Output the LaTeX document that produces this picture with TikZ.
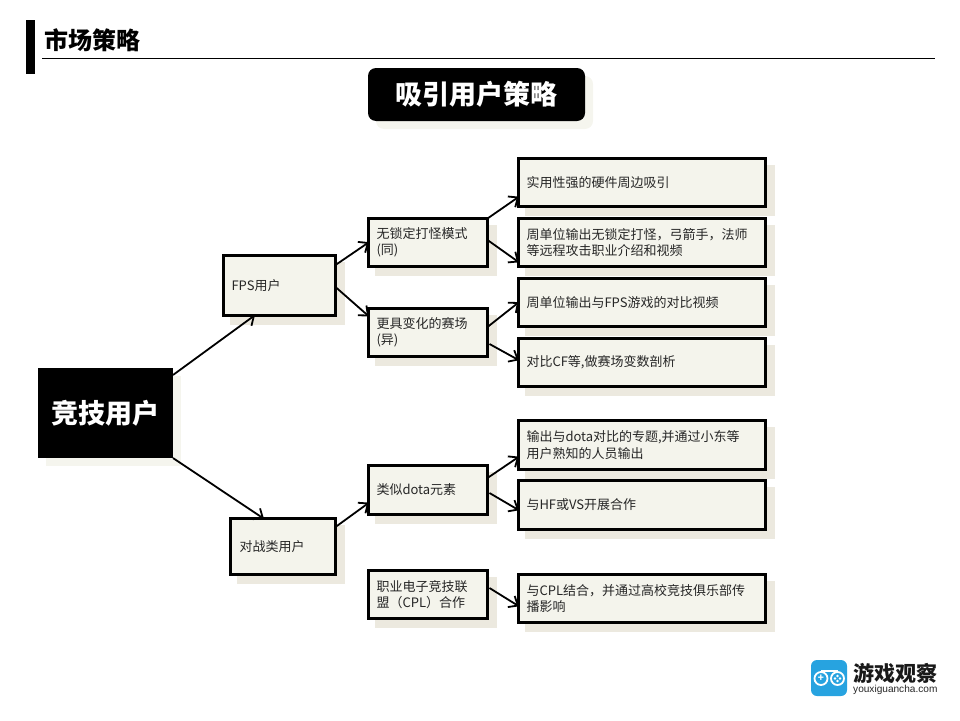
\documentclass[tikz,border=0pt]{standalone}
\usepackage{fontspec}
\setmainfont{Noto Sans CJK SC}
\newfontfamily\latinfont{Liberation Sans}
\usetikzlibrary{arrows.meta,shadows}
\definecolor{boxfill}{HTML}{F4F4EC}
\definecolor{boxshade}{HTML}{ECE9DF}
\definecolor{paleshade}{HTML}{F5F5EE}
\definecolor{logoblue}{HTML}{27A3E0}
\pgfdeclarearrow{
  name=flowbarb,
  setup code={\pgfarrowssettipend{0pt}\pgfarrowssetlineend{-1pt}\pgfarrowssetbackend{-8.5pt}\pgfarrowssetvisualbackend{-1pt}},
  drawing code={\pgfsetdash{}{0pt}\pgfsetmiterjoin
    \pgfpathmoveto{\pgfpoint{-8.5pt}{6.5pt}}\pgfpathlineto{\pgfpoint{-0.8pt}{0pt}}\pgfpathlineto{\pgfpoint{-8.5pt}{-6.5pt}}\pgfusepathqstroke}
}
\tikzset{
  planbox/.style={rectangle, draw=black, line width=3pt, fill=boxfill, text=black!85, inner sep=0pt, outer sep=0pt,
    align=left, font=\fontsize{13}{16.5}\selectfont,
    general shadow={draw=boxshade, fill=boxshade, shadow xshift=8pt, shadow yshift=-8pt}},
  leafbox/.style={planbox, minimum width=247pt, minimum height=48pt, text width=231pt},
  midbox/.style={planbox, minimum width=119pt, minimum height=48pt, text width=103pt},
  flow/.style={draw=black, line width=1.8pt, -flowbarb},
  blackbox/.style={rectangle, fill=black, text=white, font=\fontsize{27}{30}\selectfont\bfseries, outer sep=0pt,
    general shadow={fill=paleshade, shadow xshift=8pt, shadow yshift=-8pt}},
  paddot/.style={circle, fill=white, minimum size=2.6pt, inner sep=0pt}
}
\begin{document}
\begin{tikzpicture}[x=1pt,y=-1pt]
\useasboundingbox (0,0) rectangle (960,720);
\node[fill=black, minimum width=9pt, minimum height=54pt, inner sep=0pt] (bar) at (30.5,47){};
\coordinate (ruleL) at (42,58.5);
\coordinate (ruleR) at (935,58.5);
\draw[line width=1pt](ruleL) -- (ruleR);
\node[anchor=west, inner sep=0pt, font=\fontsize{24}{26}\selectfont\bfseries, text=black] (head) at (44,40){市场策略};
\node[blackbox, rounded corners=8pt, minimum width=217pt, minimum height=53pt, inner sep=0pt] (title) at (476.5,94.5){吸引用户策略};
\node[blackbox, minimum width=135pt, minimum height=90pt, inner sep=0pt] (root) at (105.5,413){竞技用户};
\node[planbox, minimum width=112pt, minimum height=60pt, text width=96pt] (fps) at (279.5,285.5){FPS用户};
\node[planbox, minimum width=105pt, minimum height=56pt, text width=87pt] (vs) at (283,546.5){对战类用户};
\node[midbox] (lock) at (428,242.5){无锁定打怪模式\\(同)};
\node[midbox] (arena) at (428,332.5){更具变化的赛场\\(异)};
\node[midbox, minimum height=49pt] (dota) at (428,490){类似dota元素};
\node[midbox, minimum height=48pt] (league) at (428,594.5){职业电子竞技联\\盟（CPL）合作};
\node[leafbox] (gear) at (642,182.5){实用性强的硬件周边吸引};
\node[leafbox] (ranged) at (642,242.5){周单位输出无锁定打怪，弓箭手，法师\\等远程攻击职业介绍和视频};
\node[leafbox] (video) at (642,302.5){周单位输出与FPS游戏的对比视频};
\node[leafbox] (cf) at (642,362.5){对比CF等,做赛场变数剖析};
\node[leafbox, minimum height=49pt] (topic) at (642,445){输出与dota对比的专题,并通过小东等\\用户熟知的人员输出};
\node[leafbox, minimum height=49pt] (hf) at (642,505){与HF或VS开展合作};
\node[leafbox, minimum height=48pt] (cpl) at (642,598.5){与CPL结合，并通过高校竞技俱乐部传\\播影响};
\draw[flow]([yshift=-7pt]root.north east) -- ([xshift=31pt]fps.south west);
\draw[flow](root.south east) -- ([xshift=33pt]vs.north west);
\draw[flow]([yshift=20.5pt]fps.east) -- (lock.west);
\draw[flow]([yshift=-1.5pt]fps.east) -- ([yshift=16.5pt]arena.west);
\draw[flow](lock.north east) -- ([yshift=-14.5pt]gear.west);
\draw[flow]([yshift=2.5pt]lock.east) -- ([yshift=-19.5pt]ranged.west);
\draw[flow]([yshift=5.5pt]arena.east) -- (video.west);
\draw[flow]([xshift=2pt,yshift=-11.5pt]arena.east) -- ([yshift=2.5pt]cf.west);
\draw[flow]([yshift=19.5pt]vs.east) -- ([yshift=-13pt]dota.west);
\draw[flow]([yshift=12pt]dota.east) -- ([yshift=-12pt]topic.west);
\draw[flow]([xshift=2pt,yshift=-3pt]dota.east) -- ([yshift=-5pt]hf.west);
\draw[flow]([xshift=2pt,yshift=6.5pt]league.east) -- ([yshift=-7.5pt]cpl.west);
\node[fill=logoblue, rounded corners=6pt, minimum width=36pt, minimum height=36pt, inner sep=0pt] (logo) at (829,678){};
\node[circle, draw=white, line width=1.8pt, minimum size=13pt, inner sep=0pt] (padL) at (821,678.5){};
\node[circle, draw=white, line width=1.8pt, minimum size=13pt, inner sep=0pt] (padR) at (837.5,678.5){};
\draw[white, line width=1.6pt](padL.north) -- (padR.north);
\node[white, inner sep=0pt, font=\fontsize{10}{10}\selectfont\bfseries] (padplus) at (821,678.5){+};
\node[paddot] (padN) at (837.5,676){};
\node[paddot] (padS) at (837.5,681){};
\node[paddot] (padW) at (835,678.5){};
\node[paddot] (padE) at (840,678.5){};
\node[anchor=west, inner sep=0pt, font=\fontsize{21}{22}\selectfont\bfseries, text=black!90] (brand) at (853,673){游戏观察};
\node[anchor=west, inner sep=0pt, font=\latinfont\fontsize{10.1}{12}\selectfont, text=black!85] (site) at (853,689.5){youxiguancha.com};
\end{tikzpicture}
\end{document}
